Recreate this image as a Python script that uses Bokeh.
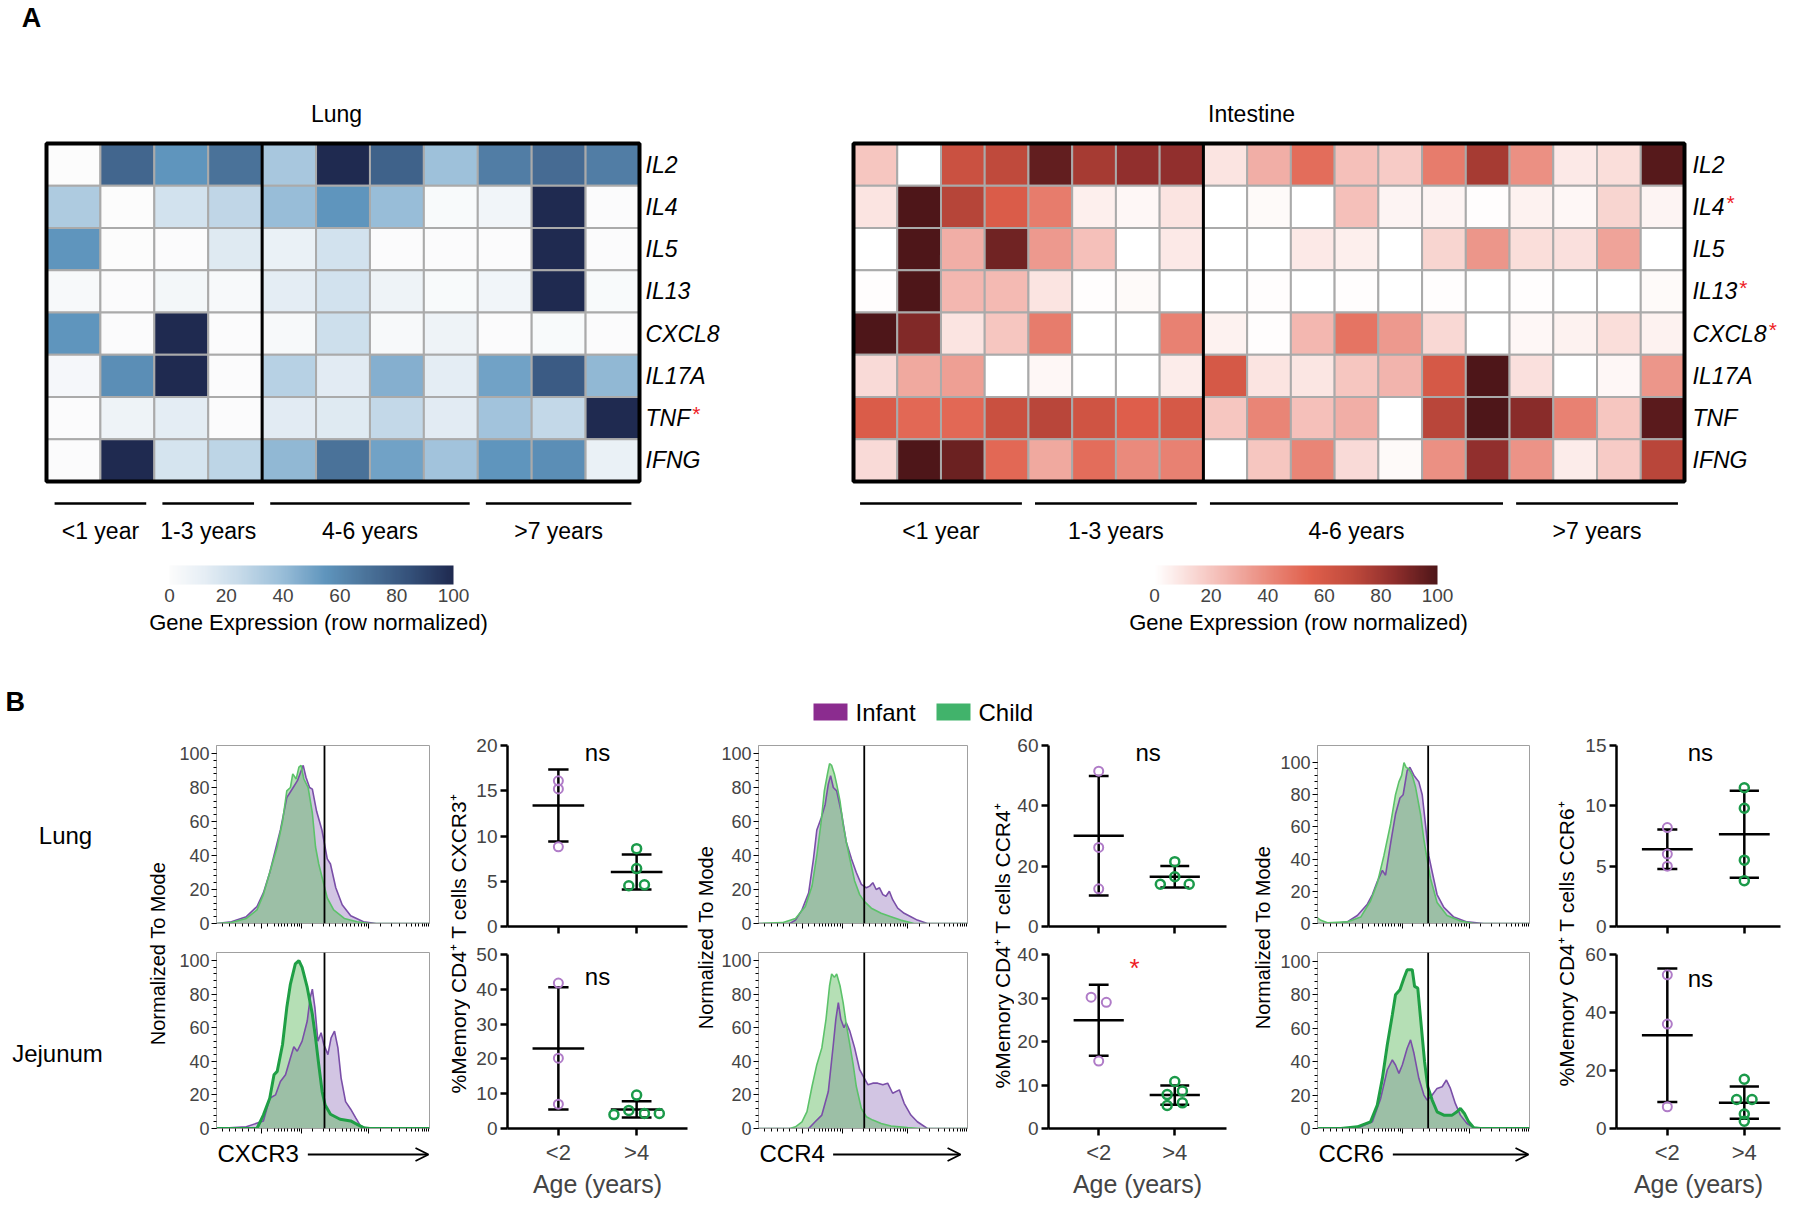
import numpy as np
from bokeh.plotting import figure
from bokeh.layouts import row, column
from bokeh.models import (Range1d, ColumnDataSource, LinearColorMapper, ColorBar,
                          FixedTicker, Arrow, OpenHead, Span)
from bokeh.core.properties import value
from bokeh.transform import linear_cmap
from bokeh.embed import file_html
from bokeh.resources import INLINE

FONT = "Liberation Sans"

# ======================= DATA =======================
genes = ["IL2", "IL4", "IL5", "IL13", "CXCL8", "IL17A", "TNF", "IFNG"]
lung_flagged = ["TNF"]
intestine_flagged = ["IL4", "IL13", "CXCL8"]

lung_values = [
    [0, 75, 55, 70, 35, 100, 77, 38, 65, 73, 65],
    [33, 0, 20, 27, 40, 55, 40, 2, 6, 100, 1],
    [55, 0, 1, 15, 10, 20, 1, 1, 1, 100, 1],
    [3, 1, 5, 3, 13, 20, 8, 2, 6, 100, 2],
    [55, 1, 100, 1, 3, 22, 3, 8, 1, 2, 1],
    [4, 58, 100, 1, 30, 14, 45, 13, 50, 80, 42],
    [1, 8, 13, 1, 14, 15, 26, 14, 37, 26, 100],
    [1, 100, 19, 28, 42, 70, 50, 37, 55, 58, 10],
]
intestine_values = [
    [20, 0, 65, 70, 95, 78, 84, 84, 10, 28, 50, 22, 18, 45, 78, 38, 8, 12, 98],
    [10, 100, 73, 58, 45, 6, 3, 10, 0, 2, 0, 22, 4, 4, 1, 5, 3, 15, 4],
    [0, 100, 28, 92, 35, 22, 0, 8, 0, 0, 8, 6, 0, 15, 36, 12, 11, 32, 0],
    [1, 100, 25, 24, 10, 1, 2, 0, 0, 1, 0, 1, 0, 1, 0, 1, 0, 0, 2],
    [100, 88, 10, 20, 45, 0, 0, 43, 5, 1, 25, 48, 35, 14, 0, 3, 5, 12, 5],
    [13, 30, 33, 0, 3, 0, 0, 7, 60, 10, 9, 20, 26, 60, 100, 11, 0, 3, 36],
    [58, 52, 52, 66, 72, 63, 56, 60, 20, 42, 22, 28, 0, 72, 100, 86, 43, 20, 97],
    [13, 100, 93, 52, 30, 50, 40, 43, 0, 20, 42, 13, 2, 38, 84, 37, 7, 18, 72],
]
age_groups = ["<1 year", "1-3 years", "4-6 years", ">7 years"]
lung_group_sizes = [2, 2, 4, 3]
intestine_group_sizes = [4, 4, 7, 4]
colorbar_ticks = [0, 20, 40, 60, 80, 100]

# histogram curves (x = % of axis width, y = % of mode)
cxcr3_lung_infant_x = [0, 7, 14, 19, 22, 25, 27, 30, 33, 36, 38, 40.7, 42, 43.7, 45, 47, 49.5, 52, 53.5, 56, 59, 63, 69, 75, 100]
cxcr3_lung_infant_y = [0, 1, 4, 10, 18, 30, 40, 55, 74, 80, 84, 93, 86, 80, 79, 66, 55, 38, 35, 21, 11, 4.5, 1, 0, 0]
cxcr3_lung_child_x = [0, 6.6, 14, 19, 22, 25, 28.5, 31, 33, 34.7, 35.8, 37.4, 38.7, 39.7, 41, 43, 45, 46.5, 48, 50, 52, 55, 60, 66, 72, 100]
cxcr3_lung_child_y = [0, 0.5, 3, 8, 17, 30, 45, 60, 78, 80, 88, 85, 92, 93, 85, 80, 65, 45, 35, 25, 15, 8, 3, 1, 0, 0]
cxcr3_jej_infant_x = [0, 14, 22, 25, 27.7, 30, 32.4, 34.7, 36.3, 37.9, 40.2, 42.6, 44, 45, 46.2, 47.6, 49.1, 50.4, 52.3, 53.8, 55.4, 57, 58.5, 60.6, 63, 65.3, 67.6, 70.7, 100]
cxcr3_jej_infant_y = [0, 1, 4.5, 18, 20, 28, 32, 42, 48.7, 46, 52, 64, 78, 83, 72, 52, 57, 50, 44, 54, 58, 48, 30, 16, 11.5, 6.5, 1.6, 0, 0]
cxcr3_jej_child_x = [0, 19, 22, 25, 27, 28.5, 31, 33, 34.7, 37, 38.7, 40.2, 42.6, 45, 46.5, 48, 49.6, 51, 53.5, 58, 63, 66, 69, 72, 100]
cxcr3_jej_child_y = [0, 0, 8, 18, 32, 34, 50, 72, 86, 98, 100, 96, 84, 68, 54, 38, 22, 14, 8.5, 5.5, 4.5, 2.5, 0.5, 0, 0]

ccr4_lung_infant_x = [0, 15, 17.7, 20.8, 24, 26.3, 27.9, 30, 31.9, 33.4, 34.5, 35.8, 37.4, 39.7, 42, 44.5, 46.8, 49.2, 51.6, 53.2, 54.7, 56.3, 57.9, 59.5, 61, 62.6, 64.2, 66.6, 69.7, 72.9, 76, 80.8, 100]
ccr4_lung_infant_y = [0, 0, 2, 8, 18, 38, 55, 62, 70, 82, 87, 80, 78, 65, 48, 38, 30, 23, 21, 22, 24, 20, 21, 17, 16, 19, 14, 9, 6, 4, 2, 0, 0]
ccr4_lung_child_x = [0, 11.4, 17.7, 22.4, 25.6, 27.9, 30, 31.5, 33, 34, 35, 36.3, 37.4, 39, 40.5, 42, 43.7, 46, 48.4, 50.6, 54, 58.7, 63.4, 68, 74.4, 100]
ccr4_lung_child_y = [0, 0.5, 3, 10, 22, 40, 60, 78, 88, 94, 93, 88, 82, 72, 58, 48, 38, 25, 17, 13, 9, 6, 4, 2, 0, 0]
ccr4_jej_infant_x = [0, 24, 27.1, 30.3, 33.4, 35.8, 37, 38.2, 39.4, 40.9, 42, 43.7, 46, 48.4, 50.6, 52.4, 54.7, 57, 59.5, 61.8, 64.2, 67.4, 69.7, 72.9, 76, 80.8, 100]
ccr4_jej_infant_y = [0, 0, 4, 8, 22, 50, 65, 75, 65, 60, 63, 58, 48, 35, 30, 26, 27, 27, 26, 27, 21, 23, 15, 8, 4, 0, 0]
ccr4_jej_child_x = [0, 15, 17.7, 20.8, 23.2, 25.6, 27.9, 30.3, 32.3, 34, 35, 36.3, 37.4, 39, 40.5, 42, 43.7, 45.3, 46.8, 49.2, 51.6, 54.7, 58.7, 63.4, 71.3, 77.6, 100]
ccr4_jej_child_y = [0, 0, 1, 4, 10, 25, 38, 48, 65, 85, 92, 90, 92, 85, 75, 62, 50, 38, 25, 12, 7, 5, 3, 1.5, 0.5, 0, 0]

ccr6_lung_infant_x = [0, 8, 14, 18.8, 23.5, 25.9, 28.2, 30.6, 32.1, 34.5, 36.8, 38.9, 40.4, 42.3, 43.6, 45.5, 47.8, 49.4, 50.9, 52.5, 54.1, 56.4, 59.6, 64.3, 70.5, 78.4, 100]
ccr6_lung_infant_y = [0, 0, 1, 5, 12, 18, 26, 33, 30, 50, 68, 78, 80, 95, 97, 92, 88, 80, 62, 42, 32, 18, 10, 4, 1, 0, 0]
ccr6_lung_child_x = [0, 1.6, 4.7, 14, 20.4, 25, 28.2, 31.3, 34.5, 36.8, 38.4, 39.7, 40.8, 41.8, 43.1, 44.7, 46.2, 48.6, 50.2, 51.7, 53.3, 56.4, 61.1, 67.4, 73.7, 100]
ccr6_lung_child_y = [3.5, 2, 0.5, 1, 4, 14, 25, 42, 62, 80, 88, 92, 100, 97, 96, 92, 85, 68, 52, 40, 28, 13, 5, 1.5, 0, 0]
ccr6_jej_infant_x = [0, 11, 20.4, 25.9, 29.8, 32.9, 35.3, 36.8, 38.4, 40, 42.3, 43.9, 45.5, 47.8, 50.2, 51.7, 54.1, 56.4, 58.8, 60.8, 62.7, 65, 67.4, 70.5, 73.7, 76.8, 100]
ccr6_jej_infant_y = [0, 0, 1, 4, 18, 35, 41, 38, 33, 38, 48, 53, 45, 30, 20, 17, 20, 24, 25, 29, 24, 15, 8, 3, 0.5, 0, 0]
ccr6_jej_child_x = [0, 11, 18.8, 25, 28.2, 30.6, 32.9, 35.3, 36.8, 38.9, 40.8, 42.3, 44.7, 45.8, 47.3, 48.9, 50.5, 52, 54.1, 56.4, 59.6, 63.5, 65.8, 67.4, 69.3, 71.3, 73.7, 76.8, 100]
ccr6_jej_child_y = [0, 0, 1, 4, 14, 30, 50, 68, 80, 83, 90, 95, 95, 85, 84, 62, 40, 25, 17, 10, 8, 8, 10, 12, 9, 4, 0.5, 0, 0]

gate_positions = [50.7, 50.6, 52.2]
markers = ["CXCR3", "CCR4", "CCR6"]

# % memory CD4+ T cells positive (Infant <2 y, Child >4 y)
cxcr3_lung_infant = [16.1, 15.2, 8.8]
cxcr3_lung_child = [8.6, 6.4, 4.5, 4.6]
cxcr3_jej_infant = [41.8, 20.2, 7.0]
cxcr3_jej_child = [4.0, 5.2, 9.6, 4.3, 4.3]
ccr4_lung_infant = [51.5, 26.2, 12.5]
ccr4_lung_child = [14.0, 21.5, 16.5, 14.0]
ccr4_jej_infant = [30.2, 29.0, 15.5]
ccr4_jej_child = [10.8, 7.8, 8.6, 5.3, 5.9]
ccr6_lung_infant = [8.2, 6.0, 5.0]
ccr6_lung_child = [11.5, 9.8, 5.5, 3.8]
ccr6_jej_infant = [53.0, 36.0, 7.5]
ccr6_jej_child = [17.0, 10.0, 10.0, 5.0, 2.5]
age_categories = ["<2", ">4"]
significance = [["ns", "ns"], ["ns", "*"], ["ns", "ns"]]

# ======================= STYLE =======================
BLUE_ANCHORS = [(0, "#fcfcfc"), (12, "#e6eef5"), (25, "#c6dae9"), (40, "#98bdd8"),
                (55, "#5f95bd"), (70, "#4a7299"), (85, "#345079"), (100, "#1f2a50")]
RED_ANCHORS = [(0, "#ffffff"), (10, "#fbe3e0"), (25, "#f3b7b0"), (40, "#ea8a7c"),
               (55, "#e0604c"), (70, "#c04a3c"), (85, "#8f2e2c"), (100, "#4e1619")]
PUR_FILL, PUR_LINE = "#9b7fc0", "#7a4fa8"
GRN_FILL, GRN_LINE_THIN, GRN_LINE_THICK = "#5cb85c", "#5cc26a", "#1f9f45"
INF_PT, CH_PT = "#b07cc8", "#1b9a4a"
LEG_PUR, LEG_GRN = "#8b2c8f", "#41b36b"
CW = {'I': .278, 'L': .556, '2': .556, '4': .556, '5': .556, '1': .556, '3': .556, 'C': .722,
      'X': .667, '8': .556, '7': .556, 'A': .667, 'T': .611, 'N': .722, 'F': .611, 'G': .778,
      'R': .722, '6': .556}


def make_palette(anchors, n=256):
    pos = [a[0] for a in anchors]
    rgb = [tuple(int(a[1][i:i + 2], 16) for i in (1, 3, 5)) for a in anchors]
    out = []
    for k in range(n):
        t = k / (n - 1) * 100
        c = [int(round(np.interp(t, pos, [q[j] for q in rgb]))) for j in range(3)]
        out.append("#%02x%02x%02x" % tuple(c))
    return out


BLUES = make_palette(BLUE_ANCHORS)
REDS = make_palette(RED_ANCHORS)


def txt(p, x, y, s, size, color="black", align="center", baseline="middle",
        style="normal", angle=0.0):
    p.text(x=[x], y=[y], text=[s], text_font=value(FONT), text_font_size=f"{size}px",
           text_color=color, text_align=align, text_baseline=baseline,
           text_font_style=style, angle=angle)


def blank(w, h):
    p = figure(width=w, height=h, x_range=Range1d(0, w), y_range=Range1d(0, h),
               x_axis_location=None, y_axis_location=None, min_border=0,
               output_backend="svg", toolbar_location=None)
    p.outline_line_color = None
    p.grid.visible = False
    return p


def hide_labels(ax, ticks):
    ax.major_label_overrides = {t: "" for t in ticks}
    ax.major_label_text_font_size = "1px"


# ======================= PANEL A =======================
def heatmap(W, H, left, top, box, vals, sizes, flagged, title, title_x, lab_x,
            pal, cb_x0, cb_x1, cb_title_x, letter=None):
    bx0, bx1, by0, by1 = box
    ncol, nrow = len(vals[0]), len(genes)
    cw = (bx1 - bx0) / ncol
    rh = (by1 - by0) / nrow
    xs = -0.5 - (bx0 - left) / cw
    ys = -0.5 - (by0 - top) / rh
    p = figure(width=W, height=H, x_range=Range1d(xs, xs + W / cw),
               y_range=Range1d(ys + H / rh, ys), x_axis_location=None,
               y_axis_location=None, min_border=0, output_backend="svg",
               toolbar_location=None)
    p.outline_line_color = None
    p.grid.visible = False

    def X(xr):
        return xs + (xr - left) / cw

    def Y(yr):
        return ys + (yr - top) / rh

    cols, rows, v = [], [], []
    for r in range(nrow):
        for c in range(ncol):
            cols.append(c)
            rows.append(r)
            v.append(vals[r][c])
    src = ColumnDataSource(dict(col=cols, row=rows, val=v))
    p.rect("col", "row", 1, 1, source=src, fill_color=linear_cmap("val", pal, 0, 100),
           line_color="#aaaaaa", line_width=2)
    p.rect([(ncol - 1) / 2], [(nrow - 1) / 2], ncol, nrow, fill_color=None,
           line_color="black", line_width=4)
    div = sizes[0] + sizes[1]
    p.segment([div - 0.5], [-0.5], [div - 0.5], [nrow - 0.5], line_color="black", line_width=3)

    lx = X(lab_x)
    p.text(x=[lx] * nrow, y=list(range(nrow)), text=genes, text_font=value(FONT),
           text_font_size="23px", text_font_style="italic", text_align="left",
           text_baseline="middle", text_color="black")
    for r, g in enumerate(genes):
        if g in flagged:
            wpx = sum(CW[ch] for ch in g) * 23 + 2
            txt(p, lx + wpx / cw, r - 0.1, "*", 21, color="#ee1c25", align="left")

    start = 0
    for name, n in zip(age_groups, sizes):
        a, b = start - 0.5 + 0.15, start + n - 0.5 - 0.15
        p.segment([a], [Y(503)], [b], [Y(503)], line_color="black", line_width=2.5)
        txt(p, start + (n - 1) / 2, Y(530), name, 23)
        start += n

    txt(p, X(title_x), Y(113), title, 23)
    if letter:
        txt(p, X(31), Y(17), letter, 27, style="bold")

    mapper = LinearColorMapper(palette=pal, low=0, high=100)
    cb = ColorBar(color_mapper=mapper, orientation="horizontal", width=int(cb_x1 - cb_x0),
                  height=19, padding=0, margin=0,
                  location=(cb_x0 - left, H - (566 - top) - 38),
                  ticker=FixedTicker(ticks=colorbar_ticks),
                  major_label_text_font=FONT, major_label_text_font_size="19px",
                  major_tick_line_color=None, minor_tick_line_color=None,
                  bar_line_color=None, border_line_color=None,
                  background_fill_color=None, label_standoff=4)
    p.add_layout(cb)
    txt(p, X(cb_title_x), Y(622), "Gene Expression (row normalized)", 22)
    return p


lung = heatmap(740, 645, 0, 0, (46, 639, 143, 481), lung_values, lung_group_sizes,
               lung_flagged, "Lung", 336, 645, BLUES, 169, 453, 318, letter="A")
intestine = heatmap(1056, 645, 740, 0, (853, 1684, 143, 481), intestine_values,
                    intestine_group_sizes, intestine_flagged, "Intestine", 1251, 1692,
                    REDS, 1154, 1437, 1298)

# ======================= PANEL B =======================
STRIP_H = 85
strip = blank(1796, STRIP_H)
txt(strip, 5, STRIP_H - 56, "B", 27, align="left", style="bold")
strip.rect(x=[830], y=[STRIP_H - 66.5], width=34, height=17, fill_color=LEG_PUR, line_color=None)
txt(strip, 855, STRIP_H - 66.5, "Infant", 24, align="left")
strip.rect(x=[953], y=[STRIP_H - 66.5], width=34, height=17, fill_color=LEG_GRN, line_color=None)
txt(strip, 978, STRIP_H - 66.5, "Child", 24, align="left")

XMAJ = [21, 40, 71.5]
XMIN = [3, 6, 9, 12, 15, 18, 24, 27, 29, 30.5, 32, 33.5, 35, 36.5, 38, 39, 45, 50, 53, 56,
        59, 61, 63, 65, 66.5, 68, 69.5, 70.5, 77, 82, 86, 89, 91.5, 93.5, 95, 96.5, 97.5,
        98.5, 99.5]


def hist(W, H, l, r, t, b, yend, ix, iy, cx, cy, gate, thick):
    p = figure(width=W, height=H, x_range=Range1d(0, 100), y_range=Range1d(0, yend),
               min_border_left=l, min_border_right=r, min_border_top=t, min_border_bottom=b,
               output_backend="svg", toolbar_location=None)
    p.grid.visible = False
    p.outline_line_color = "#a0a0a0"
    ya = p.yaxis[0]
    ya.ticker = FixedTicker(ticks=[0, 20, 40, 60, 80, 100], minor_ticks=list(range(0, 101, 4)))
    ya.major_label_text_font = FONT
    ya.major_label_text_font_size = "18px"
    ya.axis_line_color = "#a0a0a0"
    ya.major_tick_out, ya.major_tick_in = 5, 0
    ya.minor_tick_out, ya.minor_tick_in = 3, 0
    ya.major_label_standoff = 2
    xa = p.xaxis[0]
    xa.ticker = FixedTicker(ticks=XMAJ, minor_ticks=XMIN)
    hide_labels(xa, XMAJ)
    xa.axis_line_color = "#a0a0a0"
    xa.major_tick_out, xa.major_tick_in = 5, 0
    xa.minor_tick_out, xa.minor_tick_in = 3, 0
    p.varea(x=ix, y1=0, y2=iy, fill_color=PUR_FILL, fill_alpha=0.45)
    p.varea(x=cx, y1=0, y2=cy, fill_color=GRN_FILL, fill_alpha=0.45)
    p.line(ix, iy, line_color=PUR_LINE, line_width=1.6)
    if thick:
        p.line(cx, cy, line_color=GRN_LINE_THICK, line_width=3)
    else:
        p.line(cx, cy, line_color=GRN_LINE_THIN, line_width=1.6)
    p.add_layout(Span(location=gate, dimension="height", line_color="black", line_width=1.8))
    return p


def dots(W, H, l, r, t, b, xr, yend, yticks, inf, ch, inf_dx, ch_dx, bottom, sig, sig_xy):
    p = figure(width=W, height=H, x_range=Range1d(*xr), y_range=Range1d(0, yend),
               min_border_left=l, min_border_right=r, min_border_top=t, min_border_bottom=b,
               output_backend="svg", toolbar_location=None)
    p.grid.visible = False
    p.outline_line_color = None
    for ax in (p.xaxis[0], p.yaxis[0]):
        ax.axis_line_width = 2.5
        ax.major_tick_line_width = 2.5
        ax.major_tick_out, ax.major_tick_in = 7, 0
        ax.minor_tick_line_color = None
        ax.major_label_text_font = FONT
    p.yaxis[0].ticker = FixedTicker(ticks=yticks)
    p.yaxis[0].major_label_text_font_size = "19px"
    p.yaxis[0].major_label_standoff = 3
    xa = p.xaxis[0]
    xa.ticker = FixedTicker(ticks=[1, 2])
    if bottom:
        xa.major_label_overrides = {1: age_categories[0], 2: age_categories[1]}
        xa.major_label_text_font_size = "22px"
        xa.major_label_standoff = 4
        xa.axis_label = "Age (years)"
        xa.axis_label_text_font = FONT
        xa.axis_label_text_font_size = "25px"
        xa.axis_label_text_font_style = "normal"
        xa.axis_label_standoff = 2
    else:
        hide_labels(xa, [1, 2])
    for k, vals, capw in ((1, inf, 0.13), (2, ch, 0.19)):
        m = float(np.mean(vals))
        s = float(np.std(vals, ddof=1))
        p.segment([k], [m - s], [k], [m + s], line_color="black", line_width=2.5)
        p.segment([k - capw, k - capw], [m - s, m + s], [k + capw, k + capw], [m - s, m + s],
                  line_color="black", line_width=2.5)
        p.segment([k - 0.33], [m], [k + 0.33], [m], line_color="black", line_width=2.5)
    p.scatter(x=[1 + d for d in inf_dx], y=inf, marker="circle", size=9, fill_color=None,
              line_color=INF_PT, line_width=2)
    p.scatter(x=[2 + d for d in ch_dx], y=ch, marker="circle", size=9, fill_color=None,
              line_color=CH_PT, line_width=2.5)
    if sig == "*":
        txt(p, sig_xy[0], sig_xy[1], "*", 26, color="#ee1c25")
    else:
        txt(p, sig_xy[0], sig_xy[1], sig, 24)
    return p


XLAB_H = 60


def xlabel_fig(W, l, r, name, tx, a1):
    # borders equal to the histogram's so the column keeps frames aligned
    p = figure(width=W, height=XLAB_H, x_range=Range1d(l, W - r), y_range=Range1d(0, XLAB_H),
               x_axis_location=None, y_axis_location=None, min_border_left=l,
               min_border_right=r, min_border_top=0, min_border_bottom=0,
               output_backend="svg", toolbar_location=None)
    p.outline_line_color = None
    p.grid.visible = False
    tx = max(tx, l + 1)
    a1 = min(a1, W - r - 1)
    txt(p, tx, XLAB_H - 13, name, 24, align="left")
    a0 = tx + sum(CW[ch] for ch in name) * 24 + 9
    p.add_layout(Arrow(end=OpenHead(size=13, line_width=1.8, line_color="black"),
                       x_start=a0, y_start=XLAB_H - 14, x_end=a1, y_end=XLAB_H - 14,
                       line_width=1.8, line_color="black"))
    return p


ROWB_TOP = 645 + STRIP_H
ROWB_H = 1200 - ROWB_TOP


def vlabel_fig(W, x, yref, s, size):
    p = blank(W, ROWB_H)
    txt(p, x, ROWB_H - (yref - ROWB_TOP), s, size, angle=np.pi / 2)
    return p


hist_cfg = [
    (270, 46, 11, (104.7, 104.8), True),
    (257, 38, 8, (104.7, 104.8), False),
    (262, 42, 8, (110.6, 105.3), True),
]
curves = [
    ((cxcr3_lung_infant_x, cxcr3_lung_infant_y, cxcr3_lung_child_x, cxcr3_lung_child_y),
     (cxcr3_jej_infant_x, cxcr3_jej_infant_y, cxcr3_jej_child_x, cxcr3_jej_child_y)),
    ((ccr4_lung_infant_x, ccr4_lung_infant_y, ccr4_lung_child_x, ccr4_lung_child_y),
     (ccr4_jej_infant_x, ccr4_jej_infant_y, ccr4_jej_child_x, ccr4_jej_child_y)),
    ((ccr6_lung_infant_x, ccr6_lung_infant_y, ccr6_lung_child_x, ccr6_lung_child_y),
     (ccr6_jej_infant_x, ccr6_jej_infant_y, ccr6_jej_child_x, ccr6_jej_child_y)),
]
xlab_cfg = [(40, 268), (30, 242), (36, 254)]

HT_H = 946 - ROWB_TOP   # top histogram figure height (frame 745-923)
hist_cols = []
for i in range(3):
    W, l, r, yends, thick = hist_cfg[i]
    (a, b_) = curves[i]
    ht = hist(W, HT_H, l, r, 745 - ROWB_TOP, 23, yends[0], *a, gate_positions[i], False)
    hb = hist(W, 194, l, r, 6, 12, yends[1], *b_, gate_positions[i], thick)
    tx, a1 = xlab_cfg[i]
    hl = xlabel_fig(W, l, r, markers[i], tx, a1)
    hist_cols.append(column(ht, hb, hl))

dot_cfg = [
    (222, 37, 5, (0.35, 2.65), (20, 50), ([0, 5, 10, 15, 20], [0, 10, 20, 30, 40, 50])),
    (221, 32, 9, (0.34, 2.68), (60, 40), ([0, 20, 40, 60], [0, 10, 20, 30, 40])),
    (218, 38, 16, (0.34, 2.47), (15, 60), ([0, 5, 10, 15], [0, 20, 40, 60])),
]
dot_data = [
    ((cxcr3_lung_infant, cxcr3_lung_child, [0, 0, 0], [0, 0, -0.1, 0.1]),
     (cxcr3_jej_infant, cxcr3_jej_child, [0, 0, 0], [-0.29, -0.1, 0, 0.1, 0.29])),
    ((ccr4_lung_infant, ccr4_lung_child, [0, 0, 0], [-0.19, 0, 0, 0.19]),
     (ccr4_jej_infant, ccr4_jej_child, [-0.1, 0.1, 0], [0, -0.1, 0.1, -0.1, 0.1])),
    ((ccr6_lung_infant, ccr6_lung_child, [0, 0, 0], [0, 0, 0, 0]),
     (ccr6_jej_infant, ccr6_jej_child, [0, 0, 0], [0, -0.1, 0.1, 0, 0])),
]
sig_pos = [((1.5, 19.2), (1.5, 43.6)), ((1.65, 57.6), (1.47, 37.0)), ((1.43, 14.4), (1.43, 51.7))]

DT_H = 938 - ROWB_TOP   # top dot figure: frame 745-926
DB_H = 1200 - 938       # bottom dot figure: frame 954-1135
dot_cols = []
for i in range(3):
    W, l, r, xr, yends, yt = dot_cfg[i]
    (ti, tc, tdi, tdc), (bi, bc, bdi, bdc) = dot_data[i]
    dt = dots(W, DT_H, l, r, 745 - ROWB_TOP, 12, xr, yends[0], yt[0], ti, tc, tdi, tdc, False,
              significance[i][0], sig_pos[i][0])
    db = dots(W, DB_H, l, r, 16, 65, xr, yends[1], yt[1], bi, bc, bdi, bdc, True,
              significance[i][1], sig_pos[i][1])
    dot_cols.append(column(dt, db))

L0 = blank(170, ROWB_H)
txt(L0, 65, ROWB_H - (835 - ROWB_TOP), "Lung", 24)
txt(L0, 57, ROWB_H - (1053 - ROWB_TOP), "Jejunum", 24)
txt(L0, 157, ROWB_H - (953 - ROWB_TOP), "Normalized To Mode", 20, angle=np.pi / 2)

dl1 = vlabel_fig(30, 18, 943, "%Memory CD4\u207a T cells CXCR3\u207a", 21)
n2 = vlabel_fig(26, 13, 937, "Normalized To Mode", 20)
dl2 = vlabel_fig(39, 27, 945, "%Memory CD4\u207a T cells CCR4\u207a", 21)
n3 = vlabel_fig(40, 27, 937, "Normalized To Mode", 20)
dl3 = vlabel_fig(41, 29, 943, "%Memory CD4\u207a T cells CCR6\u207a", 21)

rowA = row(lung, intestine)
rowB = row(L0, hist_cols[0], dl1, dot_cols[0], n2, hist_cols[1], dl2, dot_cols[1],
           n3, hist_cols[2], dl3, dot_cols[2])
page = column(rowA, strip, rowB)

open("out.html", "w").write(file_html(page, INLINE))
